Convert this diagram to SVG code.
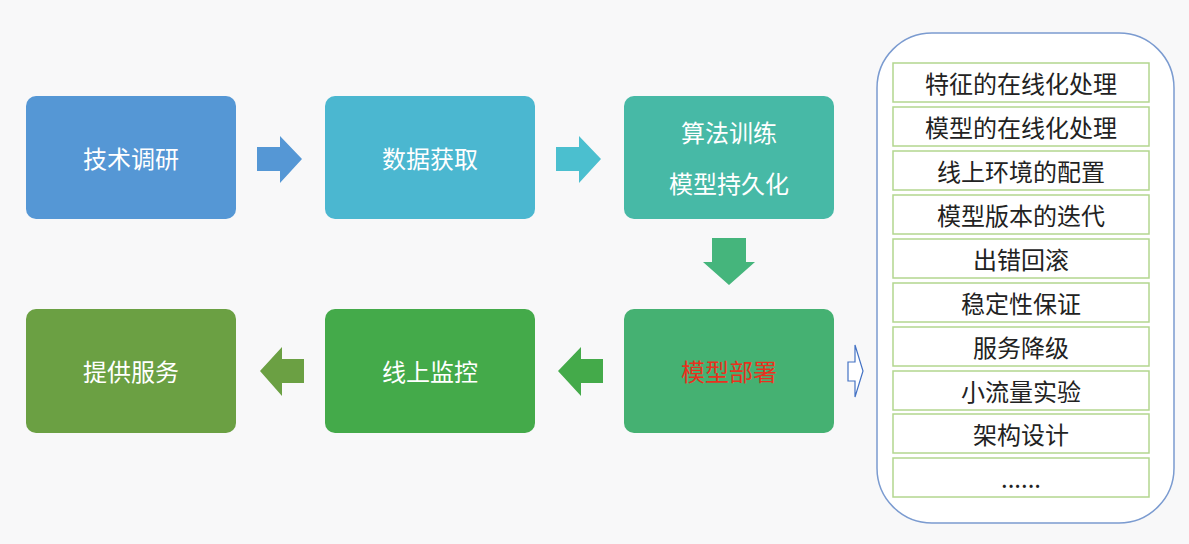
<svg xmlns="http://www.w3.org/2000/svg" width="1189" height="544" viewBox="0 0 1189 544">
<style>
.n{font-family:"Noto Sans CJK SC","Noto Sans",sans-serif;font-size:24px;fill:#fff;text-anchor:middle;dominant-baseline:central}
.it{font-family:"Noto Sans CJK SC","Noto Sans",sans-serif;font-size:24px;fill:#222;text-anchor:middle;dominant-baseline:central}
.ib{fill:#fff;stroke:#b3d68f;stroke-width:1.5}
</style>
<rect width="1189" height="544" fill="#f8f8f9"/>
<g id="n1"><rect x="26" y="96" width="210" height="123" rx="10" fill="#5597d5"/><text class="n" x="131" y="157">技术调研</text></g>
<g id="n2"><rect x="325" y="96" width="210" height="123" rx="10" fill="#4bb7d0"/><text class="n" x="430" y="157">数据获取</text></g>
<g id="n3"><rect x="624" y="96" width="210" height="123" rx="10" fill="#47b9a6"/><text class="n" x="729" y="131">算法训练</text><text class="n" x="729" y="182">模型持久化</text></g>
<g id="n4"><rect x="624" y="309" width="210" height="124" rx="10" fill="#45b172"/><text class="n" x="729" y="370" style="fill:#e8321e">模型部署</text></g>
<g id="n5"><rect x="325" y="309" width="210" height="124" rx="10" fill="#44aa4a"/><text class="n" x="430" y="370">线上监控</text></g>
<g id="n6"><rect x="26" y="309" width="210" height="124" rx="10" fill="#6ba043"/><text class="n" x="131" y="370">提供服务</text></g>
<g id="connectors">
<polygon points="257,147 280,147 280,136 302,159 280,183 280,171 257,171" fill="#5597d5"/>
<polygon points="556,147 579,147 579,136 601,159 579,183 579,171 556,171" fill="#4bbfcf"/>
<polygon points="712,238 746,238 746,262 755,262 729,285 703,262 712,262" fill="#45b57c"/>
<polygon points="603,359 581,359 581,347 558,371 581,396 581,383 603,383" fill="#44aa4a"/>
<polygon points="304,359 282,359 282,347 260,371 282,396 282,383 304,383" fill="#6ba043"/>
<polygon points="848,362 855,362 855,345 863,371 855,397 855,381 848,381" fill="#fff" stroke="#4472c4" stroke-width="1.2"/>
</g>
<g id="panel">
<rect x="877" y="33" width="297" height="490" rx="55" fill="#fff" stroke="#7b9bd0" stroke-width="1.5"/>
<rect class="ib" x="893" y="63" width="256" height="39"/><text class="it" x="1021" y="82">特征的在线化处理</text>
<rect class="ib" x="893" y="107" width="256" height="39"/><text class="it" x="1021" y="126">模型的在线化处理</text>
<rect class="ib" x="893" y="151" width="256" height="39"/><text class="it" x="1021" y="170">线上环境的配置</text>
<rect class="ib" x="893" y="195" width="256" height="39"/><text class="it" x="1021" y="214">模型版本的迭代</text>
<rect class="ib" x="893" y="239" width="256" height="39"/><text class="it" x="1021" y="258">出错回滚</text>
<rect class="ib" x="893" y="283" width="256" height="39"/><text class="it" x="1021" y="302">稳定性保证</text>
<rect class="ib" x="893" y="327" width="256" height="39"/><text class="it" x="1021" y="346">服务降级</text>
<rect class="ib" x="893" y="371" width="256" height="39"/><text class="it" x="1021" y="390">小流量实验</text>
<rect class="ib" x="893" y="414" width="256" height="39"/><text class="it" x="1021" y="433">架构设计</text>
<rect class="ib" x="893" y="458" width="256" height="39"/><text class="it" x="1021" y="477">......</text>
</g>
</svg>
